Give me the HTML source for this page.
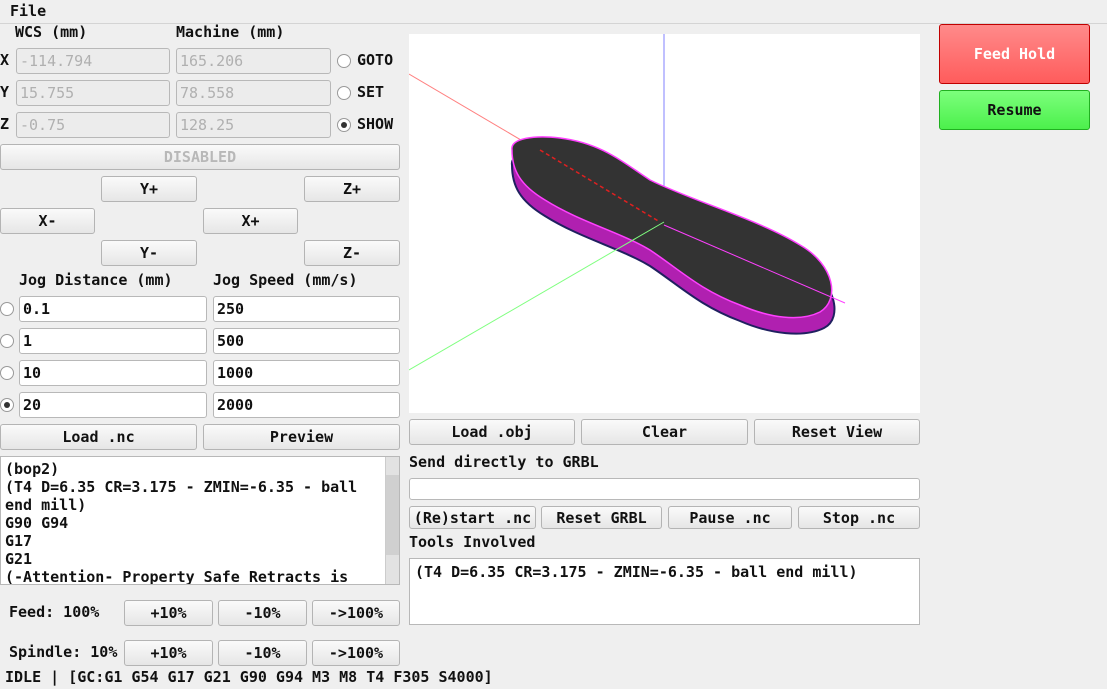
<!DOCTYPE html>
<html><head><meta charset="utf-8"><style>
*{box-sizing:border-box}
body{margin:0;width:1107px;height:689px;background:#efefef;font-family:"DejaVu Sans Mono","Liberation Mono",monospace;font-size:15px;font-weight:bold;color:#111;position:relative;overflow:hidden}
.a{position:absolute;white-space:pre}
.btn{position:absolute;border:1px solid #b4b4b4;border-radius:3px;background:linear-gradient(#fafafa,#e6e6e6);text-align:center;display:flex;align-items:center;justify-content:center}
.ent{position:absolute;border:1px solid #b8b8b8;border-radius:3px;background:#fff;padding-left:3px;display:flex;align-items:center;font-weight:bold}
.dis{background:#ececec;color:#b0b0b0;font-weight:normal}
.rad{position:absolute;width:14px;height:14px;border:1px solid #999;border-radius:50%;background:#fff}
.rad.on::after{content:"";position:absolute;left:3px;top:3px;width:6px;height:6px;border-radius:50%;background:#333}
</style></head><body>
<div class="a" style="left:10px;top:2px">File</div>
<div class="a" style="left:0;top:23px;width:1107px;height:1px;background:#d4d4d4"></div>

<div class="a" style="left:15px;top:23px">WCS (mm)</div>
<div class="a" style="left:176px;top:23px">Machine (mm)</div>

<div class="a" style="left:0;top:51px">X</div>
<div class="ent dis" style="left:16px;top:48px;width:154px;height:26px">-114.794</div>
<div class="ent dis" style="left:176px;top:48px;width:155px;height:26px">165.206</div>
<div class="rad" style="left:337px;top:54px"></div>
<div class="a" style="left:357px;top:51px">GOTO</div>

<div class="a" style="left:0;top:83px">Y</div>
<div class="ent dis" style="left:16px;top:80px;width:154px;height:26px">15.755</div>
<div class="ent dis" style="left:176px;top:80px;width:155px;height:26px">78.558</div>
<div class="rad" style="left:337px;top:86px"></div>
<div class="a" style="left:357px;top:83px">SET</div>

<div class="a" style="left:0;top:115px">Z</div>
<div class="ent dis" style="left:16px;top:112px;width:154px;height:26px">-0.75</div>
<div class="ent dis" style="left:176px;top:112px;width:155px;height:26px">128.25</div>
<div class="rad on" style="left:337px;top:118px"></div>
<div class="a" style="left:357px;top:115px">SHOW</div>

<div class="btn" style="left:0;top:144px;width:400px;height:26px;color:#b8b8b8">DISABLED</div>
<div class="btn" style="left:101px;top:176px;width:96px;height:26px">Y+</div>
<div class="btn" style="left:304px;top:176px;width:96px;height:26px">Z+</div>
<div class="btn" style="left:0;top:208px;width:95px;height:26px">X-</div>
<div class="btn" style="left:203px;top:208px;width:95px;height:26px">X+</div>
<div class="btn" style="left:101px;top:240px;width:96px;height:26px">Y-</div>
<div class="btn" style="left:304px;top:240px;width:96px;height:26px">Z-</div>

<div class="a" style="left:19px;top:271px">Jog Distance (mm)</div>
<div class="a" style="left:213px;top:271px">Jog Speed (mm/s)</div>

<div class="rad" style="left:0;top:302px"></div>
<div class="ent" style="left:19px;top:296px;width:188px;height:26px">0.1</div>
<div class="ent" style="left:213px;top:296px;width:187px;height:26px">250</div>
<div class="rad" style="left:0;top:334px"></div>
<div class="ent" style="left:19px;top:328px;width:188px;height:26px">1</div>
<div class="ent" style="left:213px;top:328px;width:187px;height:26px">500</div>
<div class="rad" style="left:0;top:366px"></div>
<div class="ent" style="left:19px;top:360px;width:188px;height:26px">10</div>
<div class="ent" style="left:213px;top:360px;width:187px;height:26px">1000</div>
<div class="rad on" style="left:0;top:398px"></div>
<div class="ent" style="left:19px;top:392px;width:188px;height:26px">20</div>
<div class="ent" style="left:213px;top:392px;width:187px;height:26px">2000</div>

<div class="btn" style="left:0;top:424px;width:197px;height:26px">Load .nc</div>
<div class="btn" style="left:203px;top:424px;width:197px;height:26px">Preview</div>

<div class="a" style="left:0;top:456px;width:400px;height:129px;background:#fff;border:1px solid #b8b8b8;overflow:hidden;line-height:18px;padding:3px 0 0 4px">(bop2)
(T4 D=6.35 CR=3.175 - ZMIN=-6.35 - ball
end mill)
G90 G94
G17
G21
(-Attention- Property Safe Retracts is</div>
<div class="a" style="left:385px;top:457px;width:14px;height:127px;background:#e2e2e2;border-left:1px solid #ccc"><div style="position:absolute;top:18px;left:0;width:13px;height:80px;background:#d0d0d0"></div></div>

<div class="a" style="left:9px;top:603px">Feed: 100%</div>
<div class="btn" style="left:124px;top:600px;width:89px;height:26px">+10%</div>
<div class="btn" style="left:218px;top:600px;width:89px;height:26px">-10%</div>
<div class="btn" style="left:312px;top:600px;width:88px;height:26px">-&gt;100%</div>
<div class="a" style="left:9px;top:643px">Spindle: 10%</div>
<div class="btn" style="left:124px;top:640px;width:89px;height:26px">+10%</div>
<div class="btn" style="left:218px;top:640px;width:89px;height:26px">-10%</div>
<div class="btn" style="left:312px;top:640px;width:88px;height:26px">-&gt;100%</div>
<div class="a" style="left:5px;top:668px">IDLE | [GC:G1 G54 G17 G21 G90 G94 M3 M8 T4 F305 S4000]</div>

<svg class="a" style="left:409px;top:34px" width="511" height="379" viewBox="409 34 511 379">
<rect x="409" y="34" width="511" height="379" fill="#fff"/>
<line x1="409" y1="74" x2="660" y2="222" stroke="#ff8080" stroke-width="1"/>
<line x1="664" y1="34" x2="664" y2="222" stroke="#8080ff" stroke-width="1"/>
<path d="M512,165 C510,153 535,150 560,153 C600,158 620,175 650,195 C690,215 760,235 800,260 C835,280 844,318 824,328 C804,338 770,334 740,321 C700,306 680,286 650,266 C620,248 580,238 545,216 C520,201 512,186 512,165 Z" fill="#b020b0" stroke="#202060" stroke-width="2"/>
<path d="M512,150 C510,138 535,135 560,138 C600,143 620,160 650,180 C690,200 760,220 800,245 C835,265 840,300 820,312 C800,322 770,318 740,305 C700,290 680,270 650,250 C620,232 580,222 545,200 C520,185 512,170 512,150 Z" fill="#333" stroke="#ff40ff" stroke-width="1.5"/>
<line x1="540" y1="150" x2="660" y2="222" stroke="#e02020" stroke-width="1.5" stroke-dasharray="4 3"/>
<line x1="664" y1="225" x2="845" y2="303" stroke="#ff40ff" stroke-width="1"/>
<line x1="664" y1="222" x2="409" y2="370" stroke="#80ff80" stroke-width="1"/>
</svg>

<div class="btn" style="left:409px;top:419px;width:166px;height:26px">Load .obj</div>
<div class="btn" style="left:581px;top:419px;width:167px;height:26px">Clear</div>
<div class="btn" style="left:754px;top:419px;width:166px;height:26px">Reset View</div>

<div class="a" style="left:409px;top:453px">Send directly to GRBL</div>
<div class="ent" style="left:409px;top:478px;width:511px;height:22px"></div>
<div class="btn" style="left:409px;top:506px;width:127px;height:23px">(Re)start .nc</div>
<div class="btn" style="left:541px;top:506px;width:121px;height:23px">Reset GRBL</div>
<div class="btn" style="left:668px;top:506px;width:124px;height:23px">Pause .nc</div>
<div class="btn" style="left:798px;top:506px;width:122px;height:23px">Stop .nc</div>
<div class="a" style="left:409px;top:533px">Tools Involved</div>
<div class="a" style="left:409px;top:558px;width:511px;height:67px;background:#fff;border:1px solid #b8b8b8;padding:4px 0 0 5px">(T4 D=6.35 CR=3.175 - ZMIN=-6.35 - ball end mill)</div>

<div class="btn" style="left:939px;top:24px;width:151px;height:60px;background:linear-gradient(#ff8a8a,#ff5c5c);border-color:#c00000;color:#fff">Feed Hold</div>
<div class="btn" style="left:939px;top:90px;width:151px;height:40px;background:linear-gradient(#7cff7c,#4cf04c);border-color:#20b020">Resume</div>
</body></html>
